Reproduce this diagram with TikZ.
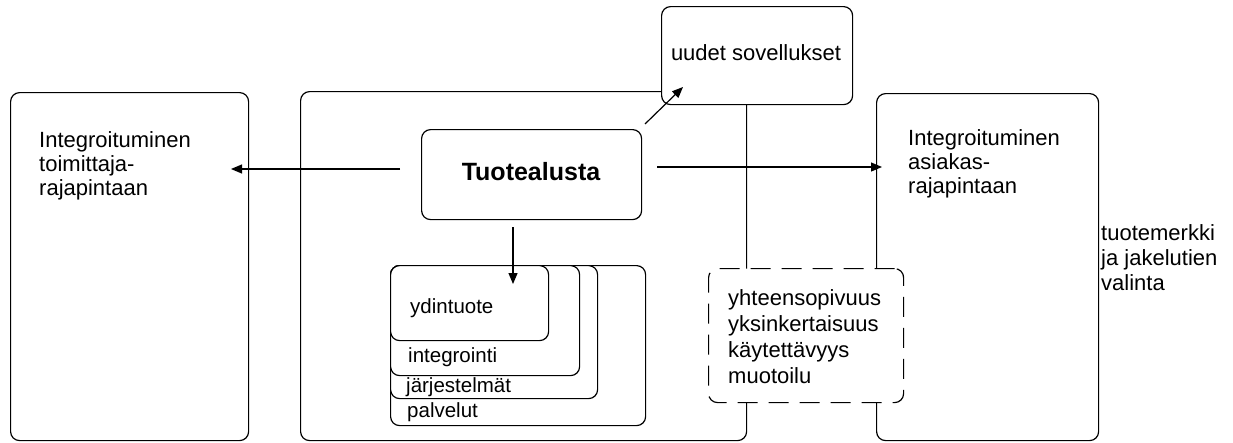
\documentclass[tikz,border=0pt]{standalone}
\usepackage{fontspec}
\setmainfont{Liberation Sans}
\usetikzlibrary{arrows.meta}
\begin{document}
\begin{tikzpicture}[x=1pt,y=-1pt,
  box/.style={draw, line width=1.2pt, rounded corners=9pt, fill=white,
              inner sep=0pt, anchor=north west},
  dashbox/.style={box, dash pattern=on 20pt off 11pt},
  lbl/.style={inner sep=0pt, align=left, anchor=north west,
              font=\fontsize{22}{24}\selectfont},
  small/.style={inner sep=0pt, anchor=base west,
                font=\fontsize{20.5}{22}\selectfont},
  arr/.style={line width=1.2pt, -{Triangle[length=11pt,width=9pt]}}]
\useasboundingbox (0,0) rectangle (1233,442);

% outer frames
\node[box, minimum width=238pt, minimum height=348pt] (L) at (10,92) {};
\node[box, minimum width=446pt, minimum height=349pt] (M) at (300,91) {};
\node[box, minimum width=222pt, minimum height=347pt] (R) at (876,93) {};
\node[box, minimum width=191pt, minimum height=98pt] (U) at (661,6) {};

% platform box
\node[box, minimum width=220pt, minimum height=90pt] (T) at (421,129) {};
\node[inner sep=0pt, anchor=base, font=\fontsize{25}{28}\selectfont\bfseries]
  (Tt) at (531,180) {Tuotealusta};

% nested product layers
\node[box, minimum width=255pt, minimum height=160pt] (P) at (390,265) {};
\node[box, minimum width=207pt, minimum height=133pt] (J) at (390,265) {};
\node[box, minimum width=189pt, minimum height=110pt] (I) at (390,265) {};
\node[box, minimum width=158pt, minimum height=75pt]  (Y) at (390,265) {};
\node[small] (Yt) at (410,313) {ydintuote};
\node[small] (It) at (408,362) {integrointi};
\node[small] (Jt) at (406,392) {järjestelmät};
\node[small] (Pt) at (407,417) {palvelut};

% dashed design box
\node[dashbox, minimum width=195pt, minimum height=134pt] (D) at (708,268) {};
\node[lbl, font=\fontsize{22}{26}\selectfont] (Dt) at (728,289)
  {yhteensopivuus\\yksinkertaisuus\\käytettävyys\\muotoilu};

% texts
\node[lbl] (Lt) at (39,131) {Integroituminen\\toimittaja-\\rajapintaan};
\node[lbl] (Rt) at (908,129) {Integroituminen\\asiakas-\\rajapintaan};
\node[lbl, font=\fontsize{22}{25}\selectfont] (Bt) at (1101,224)
  {tuotemerkki\\ja jakelutien\\valinta};
\node[inner sep=0pt, anchor=base, font=\fontsize{22}{24}\selectfont]
  (Ut) at (756,60) {uudet sovellukset};

% connectors
\coordinate (a1) at (400,169);
\coordinate (a2) at (231,169);
\coordinate (b1) at (657,167);
\coordinate (b2) at (882,167);
\coordinate (c1) at (513,227);
\coordinate (c2) at (513,284);
\coordinate (d1) at (645,124);
\coordinate (d2) at (683,87);
\draw[arr] (a1) -- (a2);
\draw[arr] (b1) -- (b2);
\draw[arr] (c1) -- (c2);
\draw[arr] (d1) -- (d2);
\end{tikzpicture}
\end{document}
